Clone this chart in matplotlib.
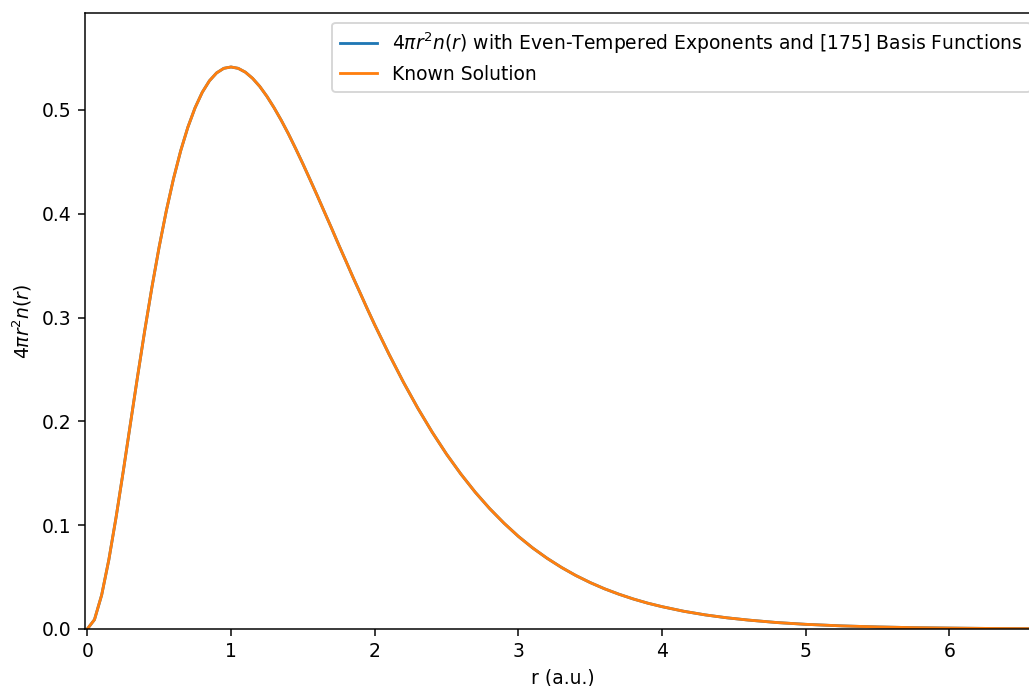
import matplotlib
matplotlib.use("Agg")
import matplotlib.pyplot as plt

# radius (a.u.)
r = [0.0, 0.05, 0.1, 0.15, 0.2, 0.25, 0.3, 0.35, 0.4, 0.45, 0.5, 0.55, 0.6, 0.65,
     0.7, 0.75, 0.8, 0.85, 0.9, 0.95, 1.0, 1.05, 1.1, 1.15, 1.2, 1.25, 1.3, 1.35,
     1.4, 1.45, 1.5, 1.55, 1.6, 1.65, 1.7, 1.75, 1.8, 1.85, 1.9, 1.95, 2.0, 2.1,
     2.2, 2.3, 2.4, 2.5, 2.6, 2.7, 2.8, 2.9, 3.0, 3.1, 3.2, 3.3, 3.4, 3.5, 3.6,
     3.7, 3.8, 3.9, 4.0, 4.15, 4.3, 4.45, 4.6, 4.8, 5.0, 5.25, 5.5, 5.75, 6.0,
     6.3, 6.6, 6.8]

# radial density (known solution)
known = [0.0, 0.0090, 0.0327, 0.0667, 0.1073, 0.1516, 0.1976, 0.2433, 0.2876,
         0.3293, 0.3679, 0.4028, 0.4337, 0.4606, 0.4833, 0.5020, 0.5169, 0.5280,
         0.5356, 0.5400, 0.5413, 0.5400, 0.5363, 0.5304, 0.5226, 0.5130, 0.5020,
         0.4899, 0.4768, 0.4627, 0.4481, 0.4329, 0.4175, 0.4017, 0.3860, 0.3699,
         0.3543, 0.3385, 0.3233, 0.3079, 0.2930, 0.2646, 0.2377, 0.2127, 0.1896,
         0.1684, 0.1492, 0.1317, 0.1160, 0.1019, 0.0892, 0.0780, 0.0681, 0.0593,
         0.0515, 0.0447, 0.0387, 0.0335, 0.0289, 0.0249, 0.0215, 0.0171, 0.0136,
         0.0108, 0.0086, 0.0062, 0.0045, 0.0030, 0.0020, 0.0013, 0.0009, 0.0005,
         0.0003, 0.0002]

# fitted basis-set density (indistinguishable from the known solution)
fitted = list(known)

W, H, DPI = 1029, 686, 135
fig = plt.figure(figsize=(W / DPI, H / DPI), dpi=DPI)
left_px, right_px, top_px, bottom_px = 84.7, 1040.0, 13.3, 629.0
ax = fig.add_axes([left_px / W, (H - bottom_px) / H,
                   (right_px - left_px) / W, (bottom_px - top_px) / H])

ax.plot(r, fitted, color="#1f77b4", lw=1.5,
        label=r"$4\pi r^2 n(r)$ with Even-Tempered Exponents and [175] Basis Functions")
ax.plot(r, known, color="#ff7f0e", lw=1.5, label="Known Solution")

ax.set_xlim(-0.018, -0.018 + (right_px - left_px) / 143.7)
ax.set_ylim(0.0, 0.593)
ax.set_xticks([0, 1, 2, 3, 4, 5, 6])
ax.set_yticks([0.0, 0.1, 0.2, 0.3, 0.4, 0.5])
ax.set_xlabel("r (a.u.)")
ax.set_ylabel(r"$4\pi r^2 n(r)$")
ax.legend(loc="upper right")

fig.savefig("out.png", dpi=DPI)
